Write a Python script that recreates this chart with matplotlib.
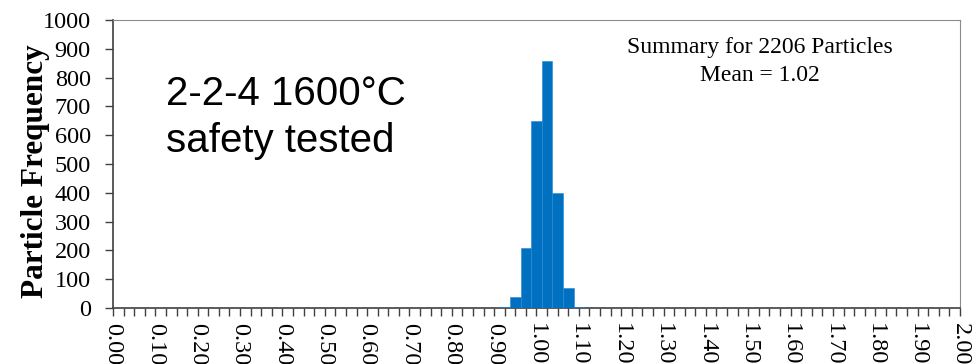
import matplotlib
matplotlib.use('Agg')
from matplotlib import pyplot as plt
from matplotlib.ticker import MultipleLocator, FormatStrFormatter

# histogram bins (0.025 wide), only the non-empty ones
bin_centers = [0.925, 0.950, 0.975, 1.000, 1.025, 1.050, 1.075, 1.100]
counts = [4, 37, 210, 648, 857, 398, 68, 4]

n_particles = 2206
mean_size = 1.02
sample_label = '2-2-4 1600°C\nsafety tested'

fig = plt.figure(figsize=(9.79, 3.64), dpi=100)
ax = fig.add_axes([113 / 979, 56 / 364, 847 / 979, 288 / 364])

ax.bar(bin_centers, counts, width=0.025, color='#0070C0', edgecolor='#2a86d2',
       linewidth=0.4, zorder=3)

ax.set_xlim(0, 2.0)
ax.set_ylim(0, 1000)
ax.xaxis.set_major_locator(MultipleLocator(0.1))
ax.xaxis.set_minor_locator(MultipleLocator(0.025))
ax.xaxis.set_major_formatter(FormatStrFormatter('%.2f'))
ax.yaxis.set_major_locator(MultipleLocator(100))

serif = 'Liberation Serif'
ax.tick_params(axis='x', which='both', direction='out', length=6, width=1,
               color='#404040', labelsize=17.5, labelrotation=270, pad=5)
ax.tick_params(axis='y', direction='out', length=6, width=1, color='#404040',
               labelsize=17.5, pad=10)
for lab in ax.get_xticklabels() + ax.get_yticklabels():
    lab.set_fontfamily(serif)
for lab in ax.get_xticklabels():
    lab.set_verticalalignment('top')

ax.spines['left'].set_color('#404040')
ax.spines['bottom'].set_color('#404040')
ax.spines['left'].set_linewidth(1.2)
ax.spines['bottom'].set_linewidth(1.2)
ax.spines['top'].set_color('#8c8c8c')
ax.spines['right'].set_color('#8c8c8c')

fig.text(0.036, 0.53, 'Particle Frequency', rotation=90, ha='center', va='center',
         fontsize=22.5, fontweight='bold', fontfamily=serif)

ax.text(0.062, 0.81, sample_label, transform=ax.transAxes, ha='left', va='top',
        fontsize=29, fontfamily='Liberation Sans', linespacing=1.3)

ax.text(0.764, 0.94, f'Summary for {n_particles} Particles\nMean = {mean_size:.2f}',
        transform=ax.transAxes, ha='center', va='top', fontsize=17,
        fontfamily=serif, linespacing=1.45)

plt.savefig('out.png', dpi=100)
